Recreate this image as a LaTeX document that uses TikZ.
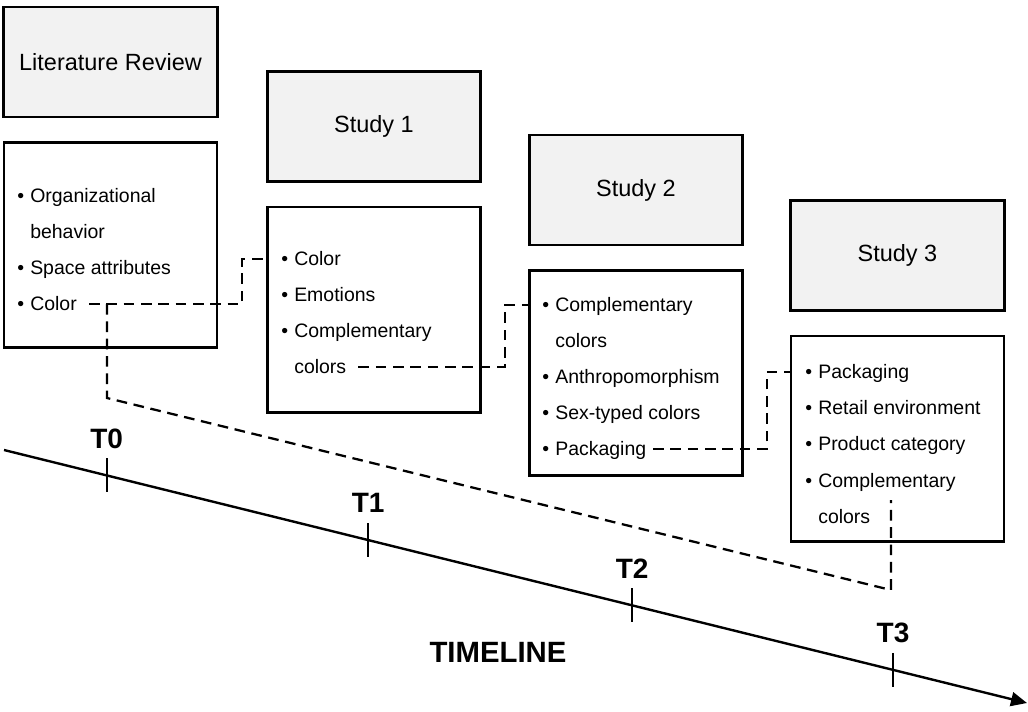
\documentclass[tikz,border=0pt]{standalone}
\usepackage{fontspec}
\setmainfont{Liberation Sans}
\usetikzlibrary{positioning,calc,arrows.meta}
\definecolor{headgray}{RGB}{242,242,242}

\begin{document}
\begin{tikzpicture}[x=0.75pt, y=-0.75pt, node distance={17pt},
    head/.style = {draw, line width=2.2pt, fill=headgray, minimum width=160pt, minimum height=82.5pt, font=\fontsize{17.6}{21}\selectfont},
    list/.style = {draw, line width=1.9pt, minimum width=160pt, minimum height=154pt},
    item/.style = {anchor=west, inner sep=0pt, text height=10pt, text depth=0pt, font=\fontsize{14.6}{17}\selectfont},
    bul/.style = {item, execute at begin node={\llap{\textbullet\hspace{4.5pt}}}},
    conn/.style = {line width=1.7pt, dash pattern=on 8pt off 5pt},
    tick/.style = {line width=1.8pt},
    tlabel/.style = {font=\bfseries\fontsize{21}{25}\selectfont}]
    \useasboundingbox (0,0) rectangle (1028,711);

    \node[head] (lit) at (110.5,62) {Literature Review};
    \node[head] (s1) at (374,126.5) {Study 1};
    \node[head] (s2) at (636,190) {Study 2};
    \node[head] (s3) at (897.5,255.5) {Study 3};

    \node[list, below=of lit] (litc) {};
    \node[list, below=of s1] (s1c) {};
    \node[list, below=of s2] (s2c) {};
    \node[list, below=of s3] (s3c) {};

    \node[bul] (l1) at (30,196) {Organizational};
    \node[item] (l2) at (30,232) {behavior};
    \node[bul] (l3) at (30,268) {Space attributes};
    \node[bul] (l4) at (30,304) {Color};

    \node[bul] (a1) at (294,259) {Color};
    \node[bul] (a2) at (294,295) {Emotions};
    \node[bul] (a3) at (294,331) {Complementary};
    \node[item] (a4) at (294,367) {colors};

    \node[bul] (b1) at (555,305) {Complementary};
    \node[item] (b2) at (555,341) {colors};
    \node[bul] (b3) at (555,377) {Anthropomorphism};
    \node[bul] (b4) at (555,413) {Sex-typed colors};
    \node[bul] (b5) at (555,449) {Packaging};

    \node[bul] (c1) at (818,372) {Packaging};
    \node[bul] (c2) at (818,408) {Retail environment};
    \node[bul] (c3) at (818,444) {Product category};
    \node[bul] (c4) at (818,481) {Complementary};
    \node[item] (c5) at (818,517) {colors};

    \draw[conn] ([xshift=9pt]l4.east) -| ($(litc.east)!.5!(s1c.west)$) |- (s1c.west |- a1);
    \draw[conn] ([xshift=9pt]a4.east) -| ($(s1c.east)!.5!(s2c.west)$) |- (s2c.west |- b1);
    \draw[conn] ([xshift=5pt]b5.east) -| ($(s2c.east)!.5!(s3c.west)$) |- (s3c.west |- c1);

    \coordinate (d0) at (107,398);
    \coordinate (d3) at (891,590);
    \coordinate (d3top) at (891,500);
    \draw[conn] (d0 |- l4.east) -- (d0) -- (d3) -- (d3top);

    \coordinate (tlstart) at (4,450);
    \coordinate (tlend) at (1027,703);
    \draw[line width=1.8pt, -{Triangle[length=12pt,width=10.5pt]}] (tlstart) -- (tlend);
    \foreach \p/\n in {0.1004/0, 0.356/1, 0.614/2, 0.869/3} {
        \coordinate (t\n) at ($(tlstart)!\p!(tlend)$);
        \draw[tick] ($(t\n)+(0,-17)$) -- ($(t\n)+(0,17)$);
        \node[tlabel] (tl\n) at ($(t\n)+(0,-37)$) {T\n};
    }
    \node[tlabel, font=\bfseries\fontsize{22}{26}\selectfont] (tline) at (498,652) {TIMELINE};
\end{tikzpicture}
\end{document}
